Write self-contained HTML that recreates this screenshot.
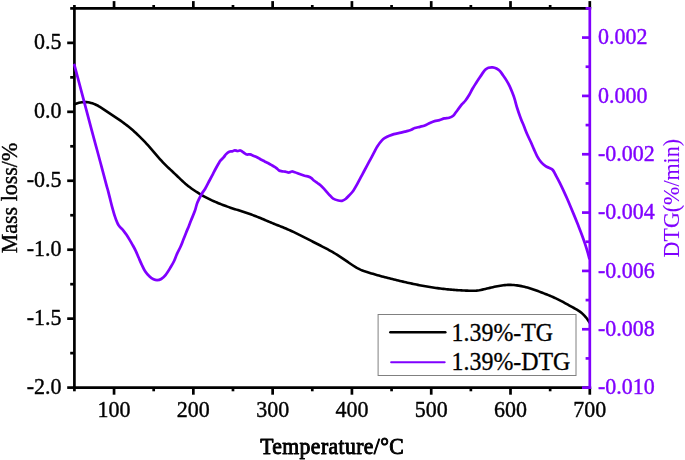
<!DOCTYPE html>
<html><head><meta charset="utf-8"><style>
html,body{margin:0;padding:0;background:#fff;width:685px;height:460px;overflow:hidden}
svg{display:block}
text{font-family:"Liberation Serif",serif}
</style></head><body>
<svg width="685" height="460" viewBox="0 0 685 460">
<rect width="685" height="460" fill="#fff"/>
<path d="M74.40,104.29 L75.90,103.68 L77.40,103.18 L78.90,102.77 L80.40,102.45 L81.90,102.23 L83.40,102.11 L84.90,102.08 L86.40,102.15 L87.90,102.31 L89.40,102.56 L90.90,102.91 L92.40,103.35 L93.90,103.88 L95.40,104.51 L96.90,105.22 L98.40,106.02 L99.90,106.89 L101.40,107.82 L102.90,108.79 L104.40,109.80 L105.90,110.82 L107.40,111.85 L108.90,112.88 L110.40,113.89 L111.90,114.89 L113.40,115.88 L114.90,116.87 L116.40,117.87 L117.90,118.88 L119.40,119.90 L120.90,120.94 L122.40,122.00 L123.90,123.10 L125.40,124.22 L126.90,125.38 L128.40,126.58 L129.90,127.80 L131.40,129.06 L132.90,130.35 L134.40,131.68 L135.90,133.04 L137.40,134.43 L138.90,135.86 L140.40,137.33 L141.90,138.83 L143.40,140.36 L144.90,141.93 L146.40,143.54 L147.90,145.18 L149.40,146.86 L150.90,148.57 L152.40,150.31 L153.90,152.07 L155.40,153.83 L156.90,155.59 L158.40,157.32 L159.90,159.02 L161.40,160.69 L162.90,162.30 L164.40,163.85 L165.90,165.35 L167.40,166.81 L168.90,168.25 L170.40,169.66 L171.90,171.06 L173.40,172.46 L174.90,173.87 L176.40,175.29 L177.90,176.73 L179.40,178.17 L180.90,179.59 L182.40,180.99 L183.90,182.36 L185.40,183.68 L186.90,184.94 L188.40,186.15 L189.90,187.31 L191.40,188.42 L192.90,189.48 L194.40,190.51 L195.90,191.50 L197.40,192.46 L198.90,193.39 L200.40,194.29 L201.90,195.16 L203.40,196.01 L204.90,196.83 L206.40,197.62 L207.90,198.39 L209.40,199.14 L210.90,199.87 L212.40,200.57 L213.90,201.25 L215.40,201.91 L216.90,202.56 L218.40,203.19 L219.90,203.79 L221.40,204.39 L222.90,204.96 L224.40,205.53 L225.90,206.08 L227.40,206.61 L228.90,207.14 L230.40,207.65 L231.90,208.16 L233.40,208.65 L234.90,209.14 L236.40,209.62 L237.90,210.10 L239.40,210.58 L240.90,211.06 L242.40,211.55 L243.90,212.03 L245.40,212.53 L246.90,213.02 L248.40,213.53 L249.90,214.05 L251.40,214.58 L252.90,215.13 L254.40,215.69 L255.90,216.27 L257.40,216.86 L258.90,217.46 L260.40,218.07 L261.90,218.69 L263.40,219.32 L264.90,219.95 L266.40,220.58 L267.90,221.21 L269.40,221.84 L270.90,222.47 L272.40,223.10 L273.90,223.72 L275.40,224.33 L276.90,224.93 L278.40,225.53 L279.90,226.13 L281.40,226.73 L282.90,227.33 L284.40,227.94 L285.90,228.56 L287.40,229.19 L288.90,229.84 L290.40,230.51 L291.90,231.20 L293.40,231.92 L294.90,232.65 L296.40,233.39 L297.90,234.14 L299.40,234.89 L300.90,235.64 L302.40,236.40 L303.90,237.16 L305.40,237.92 L306.90,238.68 L308.40,239.44 L309.90,240.20 L311.40,240.96 L312.90,241.72 L314.40,242.48 L315.90,243.24 L317.40,243.99 L318.90,244.75 L320.40,245.52 L321.90,246.29 L323.40,247.06 L324.90,247.85 L326.40,248.65 L327.90,249.45 L329.40,250.28 L330.90,251.12 L332.40,251.97 L333.90,252.84 L335.40,253.74 L336.90,254.66 L338.40,255.60 L339.90,256.56 L341.40,257.55 L342.90,258.57 L344.40,259.59 L345.90,260.63 L347.40,261.67 L348.90,262.72 L350.40,263.75 L351.90,264.77 L353.40,265.76 L354.90,266.71 L356.40,267.59 L357.90,268.42 L359.40,269.18 L360.90,269.88 L362.40,270.51 L363.90,271.08 L365.40,271.59 L366.90,272.06 L368.40,272.52 L369.90,272.97 L371.40,273.41 L372.90,273.85 L374.40,274.29 L375.90,274.72 L377.40,275.14 L378.90,275.56 L380.40,275.97 L381.90,276.38 L383.40,276.78 L384.90,277.18 L386.40,277.57 L387.90,277.96 L389.40,278.35 L390.90,278.73 L392.40,279.11 L393.90,279.48 L395.40,279.85 L396.90,280.22 L398.40,280.58 L399.90,280.94 L401.40,281.29 L402.90,281.64 L404.40,281.99 L405.90,282.33 L407.40,282.67 L408.90,283.00 L410.40,283.32 L411.90,283.64 L413.40,283.96 L414.90,284.27 L416.40,284.57 L417.90,284.87 L419.40,285.17 L420.90,285.45 L422.40,285.73 L423.90,286.01 L425.40,286.27 L426.90,286.53 L428.40,286.79 L429.90,287.03 L431.40,287.27 L432.90,287.51 L434.40,287.73 L435.90,287.95 L437.40,288.16 L438.90,288.36 L440.40,288.55 L441.90,288.74 L443.40,288.91 L444.90,289.08 L446.40,289.24 L447.90,289.39 L449.40,289.54 L450.90,289.67 L452.40,289.79 L453.90,289.91 L455.40,290.02 L456.90,290.12 L458.40,290.21 L459.90,290.30 L461.40,290.38 L462.90,290.46 L464.40,290.53 L465.90,290.59 L467.40,290.65 L468.90,290.71 L470.40,290.76 L471.90,290.79 L473.40,290.79 L474.90,290.75 L476.40,290.65 L477.90,290.48 L479.40,290.25 L480.90,289.96 L482.40,289.64 L483.90,289.30 L485.40,288.95 L486.90,288.60 L488.40,288.24 L489.90,287.88 L491.40,287.53 L492.90,287.18 L494.40,286.84 L495.90,286.52 L497.40,286.21 L498.90,285.93 L500.40,285.67 L501.90,285.44 L503.40,285.25 L504.90,285.09 L506.40,284.97 L507.90,284.89 L509.40,284.86 L510.90,284.88 L512.40,284.94 L513.90,285.04 L515.40,285.19 L516.90,285.37 L518.40,285.59 L519.90,285.85 L521.40,286.14 L522.90,286.46 L524.40,286.82 L525.90,287.20 L527.40,287.61 L528.90,288.04 L530.40,288.50 L531.90,288.98 L533.40,289.47 L534.90,289.99 L536.40,290.52 L537.90,291.06 L539.40,291.62 L540.90,292.19 L542.40,292.77 L543.90,293.35 L545.40,293.94 L546.90,294.54 L548.40,295.14 L549.90,295.76 L551.40,296.39 L552.90,297.04 L554.40,297.70 L555.90,298.39 L557.40,299.10 L558.90,299.84 L560.40,300.60 L561.90,301.39 L563.40,302.20 L564.90,303.03 L566.40,303.86 L567.90,304.70 L569.40,305.54 L570.90,306.37 L572.40,307.19 L573.90,308.00 L575.40,308.83 L576.90,309.69 L578.40,310.62 L579.90,311.65 L581.40,312.81 L582.90,314.12 L584.40,315.62 L585.90,317.33 L587.40,319.28 L588.90,321.50 L589.50,322.47" fill="none" stroke="#000" stroke-width="2.6" stroke-linejoin="round" stroke-linecap="round"/>
<line x1="74.40" y1="8.40" x2="589.80" y2="8.40" stroke="#000" stroke-width="2.70" stroke-linecap="square"/>
<line x1="74.40" y1="387.60" x2="589.80" y2="387.60" stroke="#000" stroke-width="2.70" stroke-linecap="square"/>
<line x1="74.40" y1="8.40" x2="74.40" y2="387.60" stroke="#000" stroke-width="2.70" stroke-linecap="square"/>
<line x1="74.40" y1="387.60" x2="74.40" y2="391.30" stroke="#000" stroke-width="2.70"/>
<line x1="74.40" y1="8.40" x2="74.40" y2="5.00" stroke="#000" stroke-width="2.70"/>
<line x1="114.05" y1="387.60" x2="114.05" y2="394.70" stroke="#000" stroke-width="2.70"/>
<line x1="114.05" y1="8.40" x2="114.05" y2="1.10" stroke="#000" stroke-width="2.70"/>
<line x1="153.69" y1="387.60" x2="153.69" y2="391.30" stroke="#000" stroke-width="2.70"/>
<line x1="153.69" y1="8.40" x2="153.69" y2="5.00" stroke="#000" stroke-width="2.70"/>
<line x1="193.34" y1="387.60" x2="193.34" y2="394.70" stroke="#000" stroke-width="2.70"/>
<line x1="193.34" y1="8.40" x2="193.34" y2="1.10" stroke="#000" stroke-width="2.70"/>
<line x1="232.98" y1="387.60" x2="232.98" y2="391.30" stroke="#000" stroke-width="2.70"/>
<line x1="232.98" y1="8.40" x2="232.98" y2="5.00" stroke="#000" stroke-width="2.70"/>
<line x1="272.63" y1="387.60" x2="272.63" y2="394.70" stroke="#000" stroke-width="2.70"/>
<line x1="272.63" y1="8.40" x2="272.63" y2="1.10" stroke="#000" stroke-width="2.70"/>
<line x1="312.28" y1="387.60" x2="312.28" y2="391.30" stroke="#000" stroke-width="2.70"/>
<line x1="312.28" y1="8.40" x2="312.28" y2="5.00" stroke="#000" stroke-width="2.70"/>
<line x1="351.92" y1="387.60" x2="351.92" y2="394.70" stroke="#000" stroke-width="2.70"/>
<line x1="351.92" y1="8.40" x2="351.92" y2="1.10" stroke="#000" stroke-width="2.70"/>
<line x1="391.57" y1="387.60" x2="391.57" y2="391.30" stroke="#000" stroke-width="2.70"/>
<line x1="391.57" y1="8.40" x2="391.57" y2="5.00" stroke="#000" stroke-width="2.70"/>
<line x1="431.22" y1="387.60" x2="431.22" y2="394.70" stroke="#000" stroke-width="2.70"/>
<line x1="431.22" y1="8.40" x2="431.22" y2="1.10" stroke="#000" stroke-width="2.70"/>
<line x1="470.86" y1="387.60" x2="470.86" y2="391.30" stroke="#000" stroke-width="2.70"/>
<line x1="470.86" y1="8.40" x2="470.86" y2="5.00" stroke="#000" stroke-width="2.70"/>
<line x1="510.51" y1="387.60" x2="510.51" y2="394.70" stroke="#000" stroke-width="2.70"/>
<line x1="510.51" y1="8.40" x2="510.51" y2="1.10" stroke="#000" stroke-width="2.70"/>
<line x1="550.15" y1="387.60" x2="550.15" y2="391.30" stroke="#000" stroke-width="2.70"/>
<line x1="550.15" y1="8.40" x2="550.15" y2="5.00" stroke="#000" stroke-width="2.70"/>
<line x1="589.80" y1="387.60" x2="589.80" y2="394.70" stroke="#000" stroke-width="2.70"/>
<line x1="589.80" y1="8.40" x2="589.80" y2="1.10" stroke="#000" stroke-width="2.70"/>
<line x1="74.40" y1="387.60" x2="67.20" y2="387.60" stroke="#000" stroke-width="2.70"/>
<line x1="74.40" y1="353.13" x2="70.20" y2="353.13" stroke="#000" stroke-width="2.70"/>
<line x1="74.40" y1="318.65" x2="67.20" y2="318.65" stroke="#000" stroke-width="2.70"/>
<line x1="74.40" y1="284.18" x2="70.20" y2="284.18" stroke="#000" stroke-width="2.70"/>
<line x1="74.40" y1="249.71" x2="67.20" y2="249.71" stroke="#000" stroke-width="2.70"/>
<line x1="74.40" y1="215.24" x2="70.20" y2="215.24" stroke="#000" stroke-width="2.70"/>
<line x1="74.40" y1="180.76" x2="67.20" y2="180.76" stroke="#000" stroke-width="2.70"/>
<line x1="74.40" y1="146.29" x2="70.20" y2="146.29" stroke="#000" stroke-width="2.70"/>
<line x1="74.40" y1="111.82" x2="67.20" y2="111.82" stroke="#000" stroke-width="2.70"/>
<line x1="74.40" y1="77.35" x2="70.20" y2="77.35" stroke="#000" stroke-width="2.70"/>
<line x1="74.40" y1="42.87" x2="67.20" y2="42.87" stroke="#000" stroke-width="2.70"/>
<line x1="74.40" y1="8.40" x2="70.20" y2="8.40" stroke="#000" stroke-width="2.70"/>
<path d="M74.40,65.00 C75.50,69.13 78.17,79.12 81.00,89.80 C83.83,100.48 88.70,118.98 91.40,129.10 C94.10,139.22 95.47,144.08 97.20,150.50 C98.93,156.92 100.28,161.92 101.80,167.60 C103.32,173.28 105.27,180.77 106.30,184.60 C107.33,188.43 107.40,188.33 108.00,190.60 C108.60,192.87 109.22,195.50 109.90,198.20 C110.58,200.90 111.28,203.82 112.10,206.80 C112.92,209.78 113.95,213.47 114.80,216.10 C115.65,218.73 116.57,221.07 117.20,222.60 C117.83,224.13 118.03,224.47 118.60,225.30 C119.17,226.13 119.80,226.72 120.60,227.60 C121.40,228.48 122.42,229.40 123.40,230.60 C124.38,231.80 125.48,233.30 126.50,234.80 C127.52,236.30 128.50,237.93 129.50,239.60 C130.50,241.27 131.48,242.97 132.50,244.80 C133.52,246.63 134.58,248.48 135.60,250.60 C136.62,252.72 137.60,255.22 138.60,257.50 C139.60,259.78 140.48,261.95 141.60,264.30 C142.72,266.65 143.97,269.55 145.30,271.60 C146.63,273.65 148.23,275.32 149.60,276.60 C150.97,277.88 152.23,278.70 153.50,279.30 C154.77,279.90 155.92,280.25 157.20,280.20 C158.48,280.15 159.82,279.83 161.20,279.00 C162.58,278.17 163.93,277.15 165.50,275.20 C167.07,273.25 169.17,269.67 170.60,267.30 C172.03,264.93 173.03,263.23 174.10,261.00 C175.17,258.77 175.93,256.27 177.00,253.90 C178.07,251.53 179.45,249.15 180.50,246.80 C181.55,244.45 182.37,242.15 183.30,239.80 C184.23,237.45 185.15,235.05 186.10,232.70 C187.05,230.35 188.17,227.77 189.00,225.70 C189.83,223.63 190.10,222.83 191.10,220.30 C192.10,217.77 193.95,213.47 195.00,210.50 C196.05,207.53 196.28,205.25 197.40,202.50 C198.52,199.75 200.38,196.33 201.70,194.00 C203.02,191.67 204.00,190.75 205.30,188.50 C206.60,186.25 208.25,182.87 209.50,180.50 C210.75,178.13 211.75,176.30 212.80,174.30 C213.85,172.30 214.83,170.30 215.80,168.50 C216.77,166.70 217.83,164.80 218.60,163.50 C219.37,162.20 219.57,161.72 220.40,160.70 C221.23,159.68 222.65,158.50 223.60,157.40 C224.55,156.30 225.15,155.05 226.10,154.10 C227.05,153.15 228.30,152.15 229.30,151.70 C230.30,151.25 231.18,151.63 232.10,151.40 C233.02,151.17 233.90,150.37 234.80,150.30 C235.70,150.23 236.58,150.97 237.50,151.00 C238.42,151.03 239.45,150.37 240.30,150.50 C241.15,150.63 241.85,151.32 242.60,151.80 C243.35,152.28 244.10,152.95 244.80,153.40 C245.50,153.85 245.90,154.35 246.80,154.50 C247.70,154.65 249.13,154.10 250.20,154.30 C251.27,154.50 252.07,155.22 253.20,155.70 C254.33,156.18 255.73,156.57 257.00,157.20 C258.27,157.83 259.53,158.80 260.80,159.50 C262.07,160.20 263.33,160.77 264.60,161.40 C265.87,162.03 267.13,162.62 268.40,163.30 C269.67,163.98 270.92,164.75 272.20,165.50 C273.48,166.25 274.95,166.97 276.10,167.80 C277.25,168.63 278.10,169.92 279.10,170.50 C280.10,171.08 281.08,171.10 282.10,171.30 C283.12,171.50 284.07,171.50 285.20,171.70 C286.33,171.90 287.80,172.53 288.90,172.50 C290.00,172.47 290.82,171.55 291.80,171.50 C292.78,171.45 293.48,171.78 294.80,172.20 C296.12,172.62 298.07,173.42 299.70,174.00 C301.33,174.58 303.13,175.27 304.60,175.70 C306.07,176.13 307.37,176.20 308.50,176.60 C309.63,177.00 310.50,177.45 311.40,178.10 C312.30,178.75 312.92,179.68 313.90,180.50 C314.88,181.32 316.25,182.25 317.30,183.00 C318.35,183.75 319.07,184.02 320.20,185.00 C321.33,185.98 322.95,187.68 324.10,188.90 C325.25,190.12 326.12,191.20 327.10,192.30 C328.08,193.40 328.98,194.45 330.00,195.50 C331.02,196.55 331.80,197.77 333.20,198.60 C334.60,199.43 336.93,200.13 338.40,200.50 C339.87,200.87 340.80,201.05 342.00,200.80 C343.20,200.55 344.42,199.88 345.60,199.00 C346.78,198.12 347.82,196.88 349.10,195.50 C350.38,194.12 351.95,192.60 353.30,190.70 C354.65,188.80 355.98,186.27 357.20,184.10 C358.42,181.93 359.48,179.80 360.60,177.70 C361.72,175.60 362.78,173.58 363.90,171.50 C365.02,169.42 366.17,167.32 367.30,165.20 C368.43,163.08 369.57,160.93 370.70,158.80 C371.83,156.67 373.00,154.47 374.10,152.40 C375.20,150.33 376.03,148.37 377.30,146.40 C378.57,144.43 380.33,142.07 381.70,140.60 C383.07,139.13 384.22,138.42 385.50,137.60 C386.78,136.78 388.00,136.28 389.40,135.70 C390.80,135.12 392.22,134.57 393.90,134.10 C395.58,133.63 397.68,133.30 399.50,132.90 C401.32,132.50 403.38,132.03 404.80,131.70 C406.22,131.37 406.92,131.22 408.00,130.90 C409.08,130.58 410.17,130.28 411.30,129.80 C412.43,129.32 413.37,128.50 414.80,128.00 C416.23,127.50 418.23,127.22 419.90,126.80 C421.57,126.38 423.17,126.12 424.80,125.50 C426.43,124.88 428.07,123.83 429.70,123.10 C431.33,122.37 432.97,121.58 434.60,121.10 C436.23,120.62 437.87,120.65 439.50,120.20 C441.13,119.75 442.78,118.82 444.40,118.40 C446.02,117.98 447.73,118.13 449.20,117.70 C450.67,117.27 452.05,116.75 453.20,115.80 C454.35,114.85 455.13,113.28 456.10,112.00 C457.07,110.72 458.02,109.40 459.00,108.10 C459.98,106.80 460.92,105.47 462.00,104.20 C463.08,102.93 464.28,102.07 465.50,100.50 C466.72,98.93 468.13,96.75 469.30,94.80 C470.47,92.85 471.42,90.70 472.50,88.80 C473.58,86.90 474.72,85.12 475.80,83.40 C476.88,81.68 477.92,80.13 479.00,78.50 C480.08,76.87 481.27,75.05 482.30,73.60 C483.33,72.15 484.18,70.77 485.20,69.80 C486.22,68.83 487.15,68.22 488.40,67.80 C489.65,67.38 491.35,67.18 492.70,67.30 C494.05,67.42 495.32,67.90 496.50,68.50 C497.68,69.10 498.72,69.78 499.80,70.90 C500.88,72.02 501.92,73.67 503.00,75.20 C504.08,76.73 505.20,78.28 506.30,80.10 C507.40,81.92 508.60,84.02 509.60,86.10 C510.60,88.18 511.48,90.52 512.30,92.60 C513.12,94.68 513.72,96.12 514.50,98.60 C515.28,101.08 516.02,104.37 517.00,107.50 C517.98,110.63 519.25,114.30 520.40,117.40 C521.55,120.50 522.73,123.20 523.90,126.10 C525.07,129.00 526.25,132.15 527.40,134.80 C528.55,137.45 529.72,139.62 530.80,142.00 C531.88,144.38 532.83,146.72 533.90,149.10 C534.97,151.48 536.00,154.13 537.20,156.30 C538.40,158.47 539.70,160.47 541.10,162.10 C542.50,163.73 544.20,165.12 545.60,166.10 C547.00,167.08 548.30,167.35 549.50,168.00 C550.70,168.65 551.70,168.70 552.80,170.00 C553.90,171.30 554.93,173.67 556.10,175.80 C557.27,177.93 558.57,180.33 559.80,182.80 C561.03,185.27 562.27,187.93 563.50,190.60 C564.73,193.27 565.97,195.98 567.20,198.80 C568.43,201.62 569.67,204.57 570.90,207.50 C572.13,210.43 573.37,213.38 574.60,216.40 C575.83,219.42 577.07,222.47 578.30,225.60 C579.53,228.73 580.83,232.03 582.00,235.20 C583.17,238.37 584.28,241.50 585.30,244.60 C586.32,247.70 587.43,251.52 588.10,253.80 C588.77,256.08 589.10,257.55 589.30,258.30" fill="none" stroke="#8000ff" stroke-width="2.75" stroke-linejoin="round" stroke-linecap="round"/>
<line x1="589.80" y1="7.05" x2="589.80" y2="388.95" stroke="#8000ff" stroke-width="2.70"/>
<line x1="589.80" y1="387.60" x2="582.00" y2="387.60" stroke="#8000ff" stroke-width="2.70"/>
<line x1="589.80" y1="358.43" x2="585.60" y2="358.43" stroke="#8000ff" stroke-width="2.70"/>
<line x1="589.80" y1="329.26" x2="582.00" y2="329.26" stroke="#8000ff" stroke-width="2.70"/>
<line x1="589.80" y1="300.09" x2="585.60" y2="300.09" stroke="#8000ff" stroke-width="2.70"/>
<line x1="589.80" y1="270.92" x2="582.00" y2="270.92" stroke="#8000ff" stroke-width="2.70"/>
<line x1="589.80" y1="241.75" x2="585.60" y2="241.75" stroke="#8000ff" stroke-width="2.70"/>
<line x1="589.80" y1="212.58" x2="582.00" y2="212.58" stroke="#8000ff" stroke-width="2.70"/>
<line x1="589.80" y1="183.42" x2="585.60" y2="183.42" stroke="#8000ff" stroke-width="2.70"/>
<line x1="589.80" y1="154.25" x2="582.00" y2="154.25" stroke="#8000ff" stroke-width="2.70"/>
<line x1="589.80" y1="125.08" x2="585.60" y2="125.08" stroke="#8000ff" stroke-width="2.70"/>
<line x1="589.80" y1="95.91" x2="582.00" y2="95.91" stroke="#8000ff" stroke-width="2.70"/>
<line x1="589.80" y1="66.74" x2="585.60" y2="66.74" stroke="#8000ff" stroke-width="2.70"/>
<line x1="589.80" y1="37.57" x2="582.00" y2="37.57" stroke="#8000ff" stroke-width="2.70"/>
<line x1="589.80" y1="8.40" x2="585.60" y2="8.40" stroke="#8000ff" stroke-width="2.70"/>
<g opacity="0.999"><text transform="translate(114.05,417.00) scale(1.0000,1.0850)" text-anchor="middle" fill="#000" font-size="22.00" font-weight="normal" stroke="#000" stroke-width="0.40" stroke-linejoin="round">100</text>
<text transform="translate(193.34,417.00) scale(1.0000,1.0850)" text-anchor="middle" fill="#000" font-size="22.00" font-weight="normal" stroke="#000" stroke-width="0.40" stroke-linejoin="round">200</text>
<text transform="translate(272.63,417.00) scale(1.0000,1.0850)" text-anchor="middle" fill="#000" font-size="22.00" font-weight="normal" stroke="#000" stroke-width="0.40" stroke-linejoin="round">300</text>
<text transform="translate(351.92,417.00) scale(1.0000,1.0850)" text-anchor="middle" fill="#000" font-size="22.00" font-weight="normal" stroke="#000" stroke-width="0.40" stroke-linejoin="round">400</text>
<text transform="translate(431.22,417.00) scale(1.0000,1.0850)" text-anchor="middle" fill="#000" font-size="22.00" font-weight="normal" stroke="#000" stroke-width="0.40" stroke-linejoin="round">500</text>
<text transform="translate(510.51,417.00) scale(1.0000,1.0850)" text-anchor="middle" fill="#000" font-size="22.00" font-weight="normal" stroke="#000" stroke-width="0.40" stroke-linejoin="round">600</text>
<text transform="translate(589.80,417.00) scale(1.0000,1.0850)" text-anchor="middle" fill="#000" font-size="22.00" font-weight="normal" stroke="#000" stroke-width="0.40" stroke-linejoin="round">700</text>
<text transform="translate(61.50,394.20) scale(1.0000,1.0850)" text-anchor="end" fill="#000" font-size="22.00" font-weight="normal" stroke="#000" stroke-width="0.40" stroke-linejoin="round">-2.0</text>
<text transform="translate(61.50,325.25) scale(1.0000,1.0850)" text-anchor="end" fill="#000" font-size="22.00" font-weight="normal" stroke="#000" stroke-width="0.40" stroke-linejoin="round">-1.5</text>
<text transform="translate(61.50,256.31) scale(1.0000,1.0850)" text-anchor="end" fill="#000" font-size="22.00" font-weight="normal" stroke="#000" stroke-width="0.40" stroke-linejoin="round">-1.0</text>
<text transform="translate(61.50,187.36) scale(1.0000,1.0850)" text-anchor="end" fill="#000" font-size="22.00" font-weight="normal" stroke="#000" stroke-width="0.40" stroke-linejoin="round">-0.5</text>
<text transform="translate(61.50,118.42) scale(1.0000,1.0850)" text-anchor="end" fill="#000" font-size="22.00" font-weight="normal" stroke="#000" stroke-width="0.40" stroke-linejoin="round">0.0</text>
<text transform="translate(61.50,49.47) scale(1.0000,1.0850)" text-anchor="end" fill="#000" font-size="22.00" font-weight="normal" stroke="#000" stroke-width="0.40" stroke-linejoin="round">0.5</text>
<text transform="translate(598.00,394.40) scale(1.0000,1.0850)" text-anchor="start" fill="#8000ff" font-size="22.00" font-weight="normal" stroke="#8000ff" stroke-width="0.40" stroke-linejoin="round">-0.010</text>
<text transform="translate(598.00,336.06) scale(1.0000,1.0850)" text-anchor="start" fill="#8000ff" font-size="22.00" font-weight="normal" stroke="#8000ff" stroke-width="0.40" stroke-linejoin="round">-0.008</text>
<text transform="translate(598.00,277.72) scale(1.0000,1.0850)" text-anchor="start" fill="#8000ff" font-size="22.00" font-weight="normal" stroke="#8000ff" stroke-width="0.40" stroke-linejoin="round">-0.006</text>
<text transform="translate(598.00,219.38) scale(1.0000,1.0850)" text-anchor="start" fill="#8000ff" font-size="22.00" font-weight="normal" stroke="#8000ff" stroke-width="0.40" stroke-linejoin="round">-0.004</text>
<text transform="translate(598.00,161.05) scale(1.0000,1.0850)" text-anchor="start" fill="#8000ff" font-size="22.00" font-weight="normal" stroke="#8000ff" stroke-width="0.40" stroke-linejoin="round">-0.002</text>
<text transform="translate(598.00,102.71) scale(1.0000,1.0850)" text-anchor="start" fill="#8000ff" font-size="22.00" font-weight="normal" stroke="#8000ff" stroke-width="0.40" stroke-linejoin="round">0.000</text>
<text transform="translate(598.00,44.37) scale(1.0000,1.0850)" text-anchor="start" fill="#8000ff" font-size="22.00" font-weight="normal" stroke="#8000ff" stroke-width="0.40" stroke-linejoin="round">0.002</text>
<text transform="translate(332.20,454.00) scale(1.0000,1.0400)" text-anchor="middle" fill="#000" font-size="21.70" font-weight="normal" stroke="#000" stroke-width="0.90" stroke-linejoin="round" letter-spacing="0.4">Temperature/°C</text>
<text transform="translate(17.20,198.00) rotate(-90) scale(1.0000,1.0300)" text-anchor="middle" fill="#000" font-size="22.00" font-weight="normal" stroke="#000" stroke-width="0.40" stroke-linejoin="round">Mass loss/%</text>
<text transform="translate(679.00,198.20) rotate(-90) scale(1.0000,1.0600)" text-anchor="middle" fill="#8000ff" font-size="22.00" font-weight="normal" stroke="#8000ff" stroke-width="0.10" stroke-linejoin="round">DTG(%/min)</text></g>
<rect x="378.1" y="314.5" width="197.9" height="61" fill="#fff" stroke="#808080" stroke-width="1"/>
<line x1="390.4" y1="332.3" x2="445.3" y2="332.3" stroke="#000" stroke-width="2.6" stroke-linecap="round"/>
<line x1="391.1" y1="362.2" x2="444.7" y2="362.2" stroke="#8000ff" stroke-width="2.0" stroke-linecap="round"/>
<text transform="translate(451.60,340.70) scale(1.0000,1.0600)" text-anchor="start" fill="#000" font-size="23.90" font-weight="normal" stroke="#000" stroke-width="0.30" stroke-linejoin="round">1.39%-TG</text>
<text transform="translate(451.60,369.70) scale(1.0000,1.0600)" text-anchor="start" fill="#000" font-size="23.90" font-weight="normal" stroke="#000" stroke-width="0.30" stroke-linejoin="round">1.39%-DTG</text>
</svg>
</body></html>
